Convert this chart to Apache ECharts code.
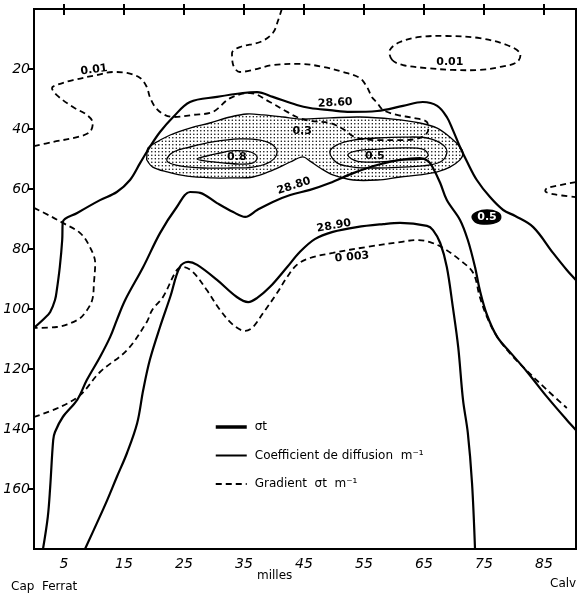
<!DOCTYPE html>
<html><head><meta charset="utf-8">
<script src="https://cdn.jsdelivr.net/npm/echarts@6/dist/echarts.min.js"></script>
<style>html,body{margin:0;padding:0;background:#fff}#c{width:578px;height:599px}</style>
</head><body><div id="c"></div>
<script>
// ---- tick labels ----
const xTicks = [5, 15, 25, 35, 45, 55, 65, 75, 85];
const yTicks = [20, 40, 60, 80, 100, 120, 140, 160];

// ---- sigma-t isolines [milles, depth m] ----
const sigma2860 = [[0,106.3],[1.8,103],[2.7,101],[3.5,97],[3.8,93.7],[4.3,86],[4.7,77],[4.8,71],[7.2,68],[11,63.7],[13.8,61],[16,57],[17.7,51.3],[19.3,46],[21,41],[23.2,36],[26,31],[30.5,29.3],[34.8,28],[37.2,27.7],[39.8,29.3],[43.8,32],[46,33],[49.3,33.7],[52.7,34.3],[57.2,34],[61.5,32.3],[64.8,31],[67.2,32.3],[68.8,36],[69.8,40.3],[71,46],[72.2,51],[73.8,57],[76,62.7],[78.2,67],[80.2,69],[83.2,72.7],[86.5,81.3],[88.8,87],[90.3,90.3]];
const sigma2880 = [[1.5,180],[2.3,169.3],[2.7,159.3],[3.2,143.7],[3.5,141],[4.8,136],[7.2,130.3],[8.8,123.7],[11,116],[12.7,109.3],[13.8,103.7],[15.2,97],[18.2,86],[21,74.7],[23.8,66],[26,61],[27.7,61.3],[30.5,64.7],[33.2,67.7],[35.2,69.3],[37.2,67],[39.8,64.3],[42.7,62],[46,60.3],[49.3,58],[53.2,54.7],[57.2,52],[61,50.3],[64.3,49.7],[65.7,50.7],[66.5,53],[67.7,58],[68.8,63.7],[71,70.3],[72.3,77],[73.5,86],[74.3,93.7],[75.5,102],[77.2,109.3],[79.3,114.3],[82.2,121],[85.5,129.3],[88.8,137],[90.3,140.3]];
const sigma2890 = [[8.5,180],[10.5,171.3],[12.2,163.7],[13.8,156],[15.5,148],[17.2,138],[18.2,127],[19.3,117],[21,106],[22.7,96],[24.3,86],[25.7,84.3],[27.2,85.3],[30.5,90.3],[33.8,96],[35.7,97.7],[37.2,96.3],[39.3,92.7],[42.2,86],[44.3,81],[46.8,76.7],[49.8,74.3],[53.8,72.7],[58.2,71.7],[61,71.3],[65.5,72.3],[66.5,73.7],[67.7,78],[68.8,86],[69.8,99.3],[70.7,112.7],[71.5,130.3],[72.3,141.3],[73,158],[73.5,180]];

// ---- gradient sigma-t isolines (dashed) ----
const grad0003 = [[0,136],[4.3,132.7],[7.7,128.7],[11,121],[15.5,113.7],[18.8,104.3],[19.7,100.3],[21.5,96],[23.8,87],[24.8,86],[26.5,87.7],[28.8,93.7],[31,100.3],[33.2,105.3],[35.2,107.3],[36.5,106],[38.2,101.3],[40.5,94.7],[42.2,89.3],[43.8,85.3],[46,83],[49.8,81.3],[55.5,79.3],[61,77.7],[63.8,77],[66,77.7],[68.2,79.7],[71,83.7],[73.2,88],[74.3,96],[75.5,102.7],[77.2,109.3],[79.3,114.7],[81.5,119.3],[85.5,127],[88.8,133]];
const gradLeft = [[0,66.3],[2.7,69],[4.8,71.3],[7.7,74.7],[9.3,79.3],[10.2,84.7],[10,91],[9.7,97],[8.5,101.3],[7.2,103.7],[3.8,106],[0,106.3]];
const grad001 = [[0,45.7],[3.2,44.3],[7.2,42.7],[9.3,41],[9.8,38],[8.8,35.3],[6.5,32.7],[3.8,28.7],[3,26.3],[3.8,25.3],[6.5,23.7],[10.5,22],[13.2,21],[15.5,21.3],[17.7,23],[18.8,26],[19.3,29.3],[20.2,32.7],[21.5,35],[23.2,36],[26.5,35.3],[29.8,34.3],[32.7,29.7],[36,28],[39.3,31],[42.2,34.3],[43.8,36],[46,37.3],[49.3,38],[51.5,40],[53.5,42.7],[57.2,43.7],[61,43.7],[64.3,43],[65.7,40.3],[65.5,37.7],[63.2,36.3],[60.5,35.3],[58.2,33.7],[57.2,31.3],[56.3,29.3],[55.5,26],[54.3,23],[51.5,21],[48.2,19.3],[44.3,18.3],[39.8,18.7],[36.5,20.3],[34.3,21],[33.2,18.7],[33,14.7],[34.3,12.7],[37.7,11],[39.8,8],[40.7,3.7],[41.3,0]];
const grad001Right = [[59.7,17],[59.3,13.7],[61,11],[64.3,9.3],[68.8,9],[74.3,9.7],[78.8,12],[81,14.7],[80.5,17.7],[77.7,19.3],[74.3,20.3],[69.8,20.3],[65.5,19.7],[61.5,18.7]];
const gradRightEdge = [[90.3,57.7],[87.7,58.7],[85.5,59.7],[85.2,60.7],[86.5,61.7],[90.3,62.7]];

// ---- diffusion coefficient isolines (closed) ----
const coefOuter = [[18.8,49.3],[19,46.3],[20.5,44.3],[22.7,42],[26,39.7],[29.3,38],[32.7,36],[35.5,35],[38.2,35.3],[41.5,36],[44.3,36.7],[49.3,36.3],[54.3,36],[59.8,36.7],[64.3,38],[67.2,39.7],[69.3,42.7],[71,46],[71.5,48],[71,50.3],[69.3,52.7],[67.2,54.3],[64.3,55.3],[61,56],[57.2,57],[53.2,57],[49.8,55.3],[47.7,53],[46,50.7],[44.8,49.3],[42.7,51],[39.8,53.7],[36.5,56],[32.7,56.3],[29.8,56.3],[25.5,55.7],[22.2,54.3],[19.8,52.7],[18.8,50.3]];
const coefLeftMid = [[22.2,49.7],[23.2,47.7],[26,46],[29.8,44.3],[34.3,43.3],[37.7,43.7],[39.8,45.3],[40.5,48],[39.3,51],[36.5,52.7],[32.7,53],[28.2,53],[24.3,52.3],[22.3,51]];
const coefLeftInner = [[27.2,50],[28.8,49],[31,48],[32.7,47.3],[34.8,47.3],[36.5,48],[37.2,49.7],[36.5,51.3],[34.3,51.7],[31.5,51.3],[28.8,50.7]];
const coefRightMid = [[49.3,47.7],[50.5,45.3],[53.2,43.7],[57.2,43],[61.5,42.7],[65.5,43],[68.2,45.3],[68.8,48],[67.7,51],[64.8,52.3],[61.5,52.7],[57.2,53],[53.2,52.7],[50.5,51.3]];
const coefRightInner = [[52.3,48.7],[53.8,47.3],[57.2,46.7],[61.5,46.3],[64.8,46.7],[65.7,48.7],[64.8,50],[61.5,50.3],[57.2,51],[53.8,50.7]];
const coefSmall = [[73,69.3],[73.8,67.7],[75.5,67],[77.2,67.7],[77.8,69.3],[77.2,71],[75.5,71.7],[73.8,71.3]];

// ---- isoline labels ----
const labelTexts = ['0.01', '0.01', '28.60', '28.80', '28.90', '0 003', '0.8', '0.3', '0.5', '0.5'];
const labelMiles = [10.0, 69.3, 50.2, 43.3, 50.0, 53.0, 33.8, 44.7, 56.8, 75.5];
const labelDepths = [20.3, 17.7, 31.3, 59.0, 72.3, 82.7, 49.3, 40.7, 49.0, 69.3];

const NAME_SIGMA = 'σt';
const NAME_COEF = 'Coefficient de diffusion  m⁻¹';
const NAME_GRAD = 'Gradient  σt  m⁻¹';

// stipple pattern
const pat = document.createElement('canvas');
pat.width = 7; pat.height = 7;
(function () {
  const g = pat.getContext('2d');
  g.fillStyle = '#000';
  [[1, 1], [4.5, 1], [1, 4.5], [4.5, 4.5]].forEach(function (p) {
    g.beginPath(); g.arc(p[0] + 0.3, p[1] + 0.3, 0.75, 0, Math.PI * 2); g.fill();
  });
})();

function lineSeries(name, pts, width, dashed) {
  return {
    type: 'line', name: name, data: pts, smooth: 0.35, symbol: 'none',
    lineStyle: { color: '#000', width: width, type: dashed ? [6, 4] : 'solid' },
    silent: true, animation: false, z: 4
  };
}
function polySeries(id, pts, style, z) {
  return {
    type: 'custom', name: id, coordinateSystem: 'cartesian2d', silent: true, animation: false, z: z,
    data: [pts[0]], encode: { x: 0, y: 1 },
    renderItem: function (params, api) {
      return {
        type: 'polygon',
        shape: { points: pts.map(function (p) { return api.coord(p); }), smooth: 0.35 },
        style: style
      };
    }
  };
}

const thin = { fill: 'none', stroke: '#000', lineWidth: 1.3 };
const rotations = [8, 0, 3, 18, 10, 5, 0, 0, 0, 0];

const series = [
  lineSeries(NAME_SIGMA, sigma2860, 2.2),
  lineSeries(NAME_SIGMA, sigma2880, 2.2),
  lineSeries(NAME_SIGMA, sigma2890, 2.2),
  { type: 'line', name: NAME_COEF, data: [], symbol: 'none', lineStyle: { color: '#000', width: 1.2 } },
  lineSeries(NAME_GRAD, grad0003, 1.8, true),
  lineSeries(NAME_GRAD, gradLeft, 1.8, true),
  lineSeries(NAME_GRAD, grad001, 1.8, true),
  lineSeries(NAME_GRAD, gradRightEdge, 1.8, true),
  polySeries('g001r', grad001Right, { fill: 'none', stroke: '#000', lineWidth: 1.8, lineDash: [6, 4] }, 4),
  polySeries('cOuter', coefOuter, { fill: { image: pat, repeat: 'repeat' }, stroke: '#000', lineWidth: 1.3 }, 2),
  polySeries('cLM', coefLeftMid, thin, 3),
  polySeries('cLI', coefLeftInner, thin, 3),
  polySeries('cRM', coefRightMid, thin, 3),
  polySeries('cRI', coefRightInner, thin, 3),
  polySeries('cS', coefSmall, { fill: '#000', stroke: '#000', lineWidth: 1.3 }, 3),
  {
    type: 'scatter', name: 'labels', silent: true, animation: false, z: 10,
    symbol: 'circle', symbolSize: 1, itemStyle: { color: 'rgba(0,0,0,0)' },
    data: labelTexts.map(function (t, i) {
      return {
        name: t, value: [labelMiles[i], labelDepths[i]],
        label: { rotate: rotations[i], color: i === 9 ? '#fff' : '#000' }
      };
    }),
    label: {
      show: true, position: 'inside', formatter: function (p) { return p.name; },
      fontFamily: 'DejaVu Sans', fontWeight: 'bold', fontSize: 11,
      textBorderWidth: 0, opacity: 1
    }
  }
];

const tickFont = { fontFamily: 'DejaVu Sans', fontStyle: 'italic', fontSize: 14, color: '#000' };

const chart = echarts.init(document.getElementById('c'), null, { renderer: 'canvas' });
chart.setOption({
  animation: false,
  backgroundColor: '#fff',
  grid: { left: 34, right: 2, top: 9, bottom: 50, show: true, borderColor: '#000', borderWidth: 2, backgroundColor: 'transparent' },
  xAxis: [
    {
      type: 'value', min: 0, max: 90.33, position: 'bottom',
      axisLine: { show: false }, splitLine: { show: false },
      axisTick: { show: true, inside: true, length: 5, customValues: xTicks, lineStyle: { color: '#000', width: 2 } },
      axisLabel: Object.assign({ customValues: xTicks, margin: 8 }, tickFont)
    },
    {
      type: 'value', min: 0, max: 90.33, position: 'top',
      axisLine: { show: false }, splitLine: { show: false },
      axisTick: { show: true, inside: true, length: 6, customValues: xTicks, lineStyle: { color: '#000', width: 2 } },
      axisLabel: { show: false }
    }
  ],
  yAxis: {
    type: 'value', min: 0, max: 180, inverse: true,
    axisLine: { show: false }, splitLine: { show: false },
    axisTick: { show: true, inside: false, length: 6, customValues: yTicks, lineStyle: { color: '#000', width: 2 } },
    axisLabel: Object.assign({ customValues: yTicks, margin: 4 }, tickFont)
  },
  legend: {
    data: [
      { name: NAME_SIGMA, lineStyle: { width: 3.5 } },
      { name: NAME_COEF },
      { name: NAME_GRAD }
    ],
    orient: 'vertical', left: 214, top: 421, padding: 0,
    itemWidth: 31, itemHeight: 14, itemGap: 16.5, selectedMode: false,
    itemStyle: { opacity: 0 },
    textStyle: { fontFamily: 'DejaVu Sans', fontSize: 12, color: '#000', padding: [0, 0, 0, 3] }
  },
  graphic: [
    { type: 'text', left: 257, top: 570, style: { text: 'milles', font: '12px "DejaVu Sans"', fill: '#000' } },
    { type: 'text', left: 11, top: 581, style: { text: 'Cap  Ferrat', font: '12px "DejaVu Sans"', fill: '#000' } },
    { type: 'text', left: 550, top: 578, style: { text: 'Calv', font: '12px "DejaVu Sans"', fill: '#000' } }
  ],
  series: series
});
</script>
</body></html>
